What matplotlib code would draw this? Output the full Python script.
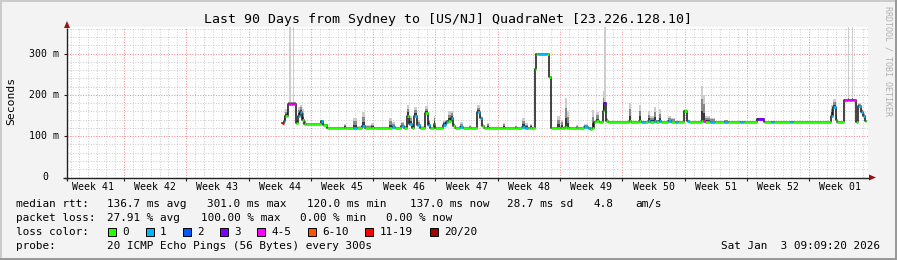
import numpy as np
import matplotlib.pyplot as plt
from matplotlib.collections import LineCollection
from matplotlib.patches import Rectangle, Polygon

# ---- data (days since start of the 90 day window, ms) ----
seg_day = [24.16, 24.33, 24.55, 24.78, 24.94, 25.17, 25.36, 25.56, 25.73, 25.96,
           26.18, 26.40, 26.63, 26.80, 28.54, 28.76, 29.21, 31.12, 31.35, 32.13,
           32.58, 33.15, 33.48, 34.16, 34.49, 36.18, 36.52, 36.85, 37.53, 37.87,
           38.20, 38.43, 38.76, 38.99, 39.33, 39.66, 40.28, 40.56, 40.79, 41.18,
           41.40, 42.30, 42.58, 42.81, 43.09, 43.37, 43.60, 44.16, 44.49, 45.17,
           45.39, 46.07, 46.35, 46.63, 46.85, 47.19, 47.42, 48.99, 49.21, 50.34,
           50.56, 51.12, 51.46, 51.80, 52.02, 52.25, 52.64, 52.75, 52.92, 53.88,
           54.12, 54.33, 55.06, 55.39, 55.56, 55.73, 55.96, 56.18, 56.40, 57.19,
           57.42, 58.09, 58.54, 58.76, 58.99, 59.21, 59.44, 59.78, 60.17, 60.34,
           60.56, 60.79, 63.15, 63.37, 64.27, 64.49, 64.94, 65.23, 65.51, 65.96,
           66.18, 66.52, 66.74, 67.53, 67.87, 68.31, 68.65, 69.38, 69.61, 69.89,
           71.24, 71.46, 71.69, 72.25, 72.81, 73.82, 74.27, 75.62, 76.07, 77.53,
           78.31, 79.10, 79.44, 81.24, 81.57, 85.84, 86.12, 86.35, 86.57, 87.25,
           87.70, 87.90, 88.17, 88.35, 88.60, 88.93, 89.21, 89.44, 89.66]
seg_med = [131, 138, 150, 178, 178, 178, 178, 178, 131, 150,
           158, 140, 130, 129, 136, 128, 120.5, 121, 120.5, 121,
           120.5, 125, 121, 121, 120.5, 121, 122, 120.5, 125, 121,
           150, 130, 121, 150, 126, 120.5, 155, 128, 120.5, 130,
           120.5, 128, 135, 138, 145, 125, 120.5, 122, 120.5, 121,
           120.5, 158, 143, 125, 120.5, 121, 120.5, 121, 120.5, 121,
           120.5, 123, 121, 120.5, 121, 120.5, 262, 298, 298, 298,
           244, 120.5, 121, 120.5, 121, 120.5, 122, 121, 120.5, 121,
           120.5, 123, 121, 117, 119, 135, 136, 135, 160, 180,
           136, 135, 136, 135, 136, 135, 135, 136, 135, 136,
           135, 136, 135, 136, 135, 135, 135, 160, 136, 135,
           136, 136, 135, 135, 135, 135, 135, 135, 135, 141,
           135, 135, 135, 135, 135, 150, 170, 140, 135, 188,
           188, 188, 188, 188, 135, 173, 159, 150, 137]
seg_hi = [133, 150, 165, 184, 999, 184, 999, 184, 140, 170,
          176, 165, 140, 131, 139, 130, 122, 130, 122, 145,
          125, 158, 128, 132, 122, 145, 135, 122, 135, 125,
          176, 150, 125, 170, 140, 124, 172, 140, 122, 150,
          123, 138, 140, 160, 162, 132, 122, 135, 122, 128,
          122, 175, 150, 130, 122, 133, 122, 133, 122, 125,
          122, 143, 132, 122, 130, 122, 265, 300, 300, 300,
          246, 122, 150, 125, 140, 123, 192, 160, 123, 128,
          122, 130, 123, 119, 163, 138, 158, 137, 210, 999,
          145, 137, 181, 137, 175, 137, 137, 160, 148, 171,
          140, 165, 137, 150, 145, 137, 137, 165, 140, 137,
          221, 200, 150, 145, 137, 140, 137, 138, 137, 145,
          137, 137, 137, 137, 137, 175, 190, 150, 137, 190,
          999, 190, 999, 190, 139, 180, 165, 155, 140]
seg_loss = [11, 1, 0, 5, 5, 5, 5, 5, 0, 1,
            1, 0, 0, 0, 1, 0, 0, 0, 0, 1,
            0, 1, 0, 0, 0, 0, 1, 0, 1, 0,
            0, 1, 0, 1, 1, 0, 0, 1, 0, 0,
            0, 1, 1, 0, 1, 0, 0, 1, 0, 0,
            0, 1, 1, 0, 0, 0, 0, 0, 0, 0,
            0, 1, 1, 0, 0, 0, 0, 0, 1, 0,
            0, 0, 0, 0, 0, 0, 0, 0, 0, 0,
            0, 1, 1, 0, 0, 0, 0, 0, 0, 3,
            0, 0, 0, 0, 0, 1, 0, 1, 0, 1,
            0, 1, 0, 1, 0, 1, 0, 0, 1, 0,
            0, 5, 0, 1, 0, 1, 0, 1, 0, 3,
            0, 1, 0, 1, 0, 1, 1, 0, 0, 5,
            5, 5, 5, 5, 0, 1, 1, 1, 0]
end_day = 89.83

week_labels = ['Week 41', 'Week 42', 'Week 43', 'Week 44', 'Week 45', 'Week 46', 'Week 47',
               'Week 48', 'Week 49', 'Week 50', 'Week 51', 'Week 52', 'Week 01']
y_ticks = [0, 100, 200, 300]
y_labels = ['0', '100 m', '200 m', '300 m']

loss_names = ['0', '1', '2', '3', '4-5', '6-10', '11-19', '20/20']
loss_colors = ['#26ff00', '#00b8ff', '#0059ff', '#7e00ff', '#ff00ff', '#ff5500', '#ff0000', '#a10000']
loss_limits = [0, 1, 2, 3, 5, 10, 19, 20]

# ---- figure ----
W, H = 897, 260
MONO = 'DejaVu Sans Mono'
fig = plt.figure(figsize=(W / 100, H / 100), dpi=100)
fig.patch.set_facecolor('#f3f3f3')


def fx(x):
    return x / W


def fy(y):
    return 1 - y / H


def rect(x, y, w, h, color, ec='none', lw=0):
    fig.add_artist(Rectangle((fx(x), fy(y + h)), w / W, h / H, transform=fig.transFigure,
                             facecolor=color, edgecolor=ec, linewidth=lw))


def fline(x1, y1, x2, y2, color, lw=1.0):
    fig.add_artist(plt.Line2D([fx(x1), fx(x2)], [fy(y1), fy(y2)], transform=fig.transFigure,
                              color=color, linewidth=lw, solid_capstyle='butt'))


# frame shading
rect(0, 0, W, 2, '#cbcbcb')
rect(0, 0, 2, H, '#cbcbcb')
rect(0, H - 2, W, 2, '#999999')
rect(W - 2, 0, 2, H, '#999999')

x0, y0, pw, ybot, ytop = 67, 27, 801, 177.5, 27
ymax = 364.4
ax = fig.add_axes([fx(x0), fy(ybot), pw / W, (ybot - ytop) / H])
ax.set_facecolor('white')
ax.set_xlim(0, 90)
ax.set_ylim(0, ymax)
for s in ax.spines.values():
    s.set_visible(False)
ax.set_xticks([])
ax.set_yticks([])

# grid
week0 = 6.4
for d in np.arange(0.4, 90, 1.0):
    k = (d - week0) / 7
    if abs(k - round(k)) < 1e-6:
        ax.axvline(d, color='#f09090', lw=0.75, dashes=(1, 1.5), zorder=1)
    else:
        ax.axvline(d, color='#cfcfcf', lw=0.75, dashes=(1, 1.5), zorder=1)
for v in np.arange(20, ymax, 20):
    if v % 100 == 0:
        ax.axhline(v, color='#f09090', lw=0.75, dashes=(1, 1.5), zorder=1)
    else:
        ax.axhline(v, color='#cfcfcf', lw=0.75, dashes=(1, 1.5), zorder=1)

# smoke
t = np.array(seg_day + [end_day])
med = np.array(seg_med + [seg_med[-1]], dtype=float)
hi = np.array(seg_hi + [seg_hi[-1]], dtype=float)
hi_in = np.where(hi > 400, med + 6, hi)
ax.fill_between(t, med, np.minimum(hi, ymax), step='post', color='#cdcdcd', lw=0, zorder=2)
ax.fill_between(t, med, med + 0.65 * (hi_in - med), step='post', color='#8a8a8a', lw=0, zorder=3)
ax.fill_between(t, med, med + 0.3 * (hi_in - med), step='post', color='#3a3a3a', lw=0, zorder=4)

# median: black joins, coloured by loss
ax.step(t, med, where='post', color='#111111', lw=1.1, zorder=5)


def loss_color(n):
    for lim, c in zip(loss_limits, loss_colors):
        if n <= lim:
            return c
    return loss_colors[-1]


segs = [[(t[i], med[i]), (t[i + 1], med[i])] for i in range(len(seg_day))]
cols = [loss_color(n) for n in seg_loss]
ax.add_collection(LineCollection(segs, colors=cols, linewidths=2.0, zorder=6, capstyle='butt'))

# axes lines and arrows
fline(63, ybot, 869, ybot, '#222222', 1.0)
fline(x0, 181, x0, 28, '#222222', 1.0)
fig.add_artist(Polygon([(fx(869), fy(174.5)), (fx(876), fy(ybot)), (fx(869), fy(180.5))],
                       closed=True, transform=fig.transFigure, color='#9b1111', lw=0))
fig.add_artist(Polygon([(fx(64), fy(28)), (fx(x0), fy(21)), (fx(70), fy(28))],
                       closed=True, transform=fig.transFigure, color='#9b1111', lw=0))

px_day = pw / 90
for k in range(12):
    xb = x0 + (week0 + 7 * k) * px_day
    fline(xb, ybot, xb, ybot + 3, '#222222', 0.8)
for v in y_ticks:
    yv = ybot - v / ymax * (ybot - ytop)
    fline(x0 - 3, yv, x0, yv, '#222222', 0.8)

# tick labels
for k, lab in enumerate(week_labels):
    xm = x0 + (week0 - 3.5 + 7 * k) * px_day
    fig.text(fx(xm), fy(187), lab, ha='center', va='center', fontsize=7.1, family=MONO)
for v, lab in zip(y_ticks, y_labels):
    yv = ybot - v / ymax * (ybot - ytop)
    xr = 58.5 if lab != '0' else 48.5
    fig.text(fx(xr), fy(yv), lab, ha='right', va='center', fontsize=7.1, family=MONO)

fig.text(fx(448), fy(19), 'Last 90 Days from Sydney to [US/NJ] QuadraNet [23.226.128.10]',
         ha='center', va='center', fontsize=9.5, family=MONO)
fig.text(fx(11), fy(101), 'Seconds', rotation=90, ha='center', va='center', fontsize=8.2, family=MONO)
fig.text(fx(888), fy(61), 'RRDTOOL / TOBI OETIKER', rotation=270, ha='center', va='center',
         fontsize=6, family=MONO, color='#b0b0b0')

# legend
LF = 7.9
rows = [
    (204, [('median rtt:', 16), ('136.7 ms avg', 107), ('301.0 ms max', 207), ('120.0 ms min', 307),
           ('137.0 ms now', 410), ('28.7 ms sd', 507), ('4.8', 593), ('am/s', 635)]),
    (218, [('packet loss:', 16), ('27.91 % avg', 107), ('100.00 % max', 201), ('0.00 % min', 300),
           ('0.00 % now', 386)]),
    (232, [('loss color:', 16)]),
    (246, [('probe:', 16), ('20 ICMP Echo Pings (56 Bytes) every 300s', 107)]),
]
for yy, items in rows:
    for s, xx in items:
        fig.text(fx(xx), fy(yy), s, ha='left', va='center', fontsize=LF, family=MONO)

box_x = [108.3, 145.7, 182.7, 219.7, 257, 307.7, 365, 430]
for bx, name, c in zip(box_x, loss_names, loss_colors):
    rect(bx, 228, 8, 8, c, ec='black', lw=0.7)
    fig.text(fx(bx + 14.4), fy(232), name, ha='left', va='center', fontsize=LF, family=MONO)

fig.text(fx(880), fy(246), 'Sat Jan  3 09:09:20 2026', ha='right', va='center', fontsize=LF, family=MONO)

fig.savefig('out.png', dpi=100, facecolor=fig.get_facecolor())
